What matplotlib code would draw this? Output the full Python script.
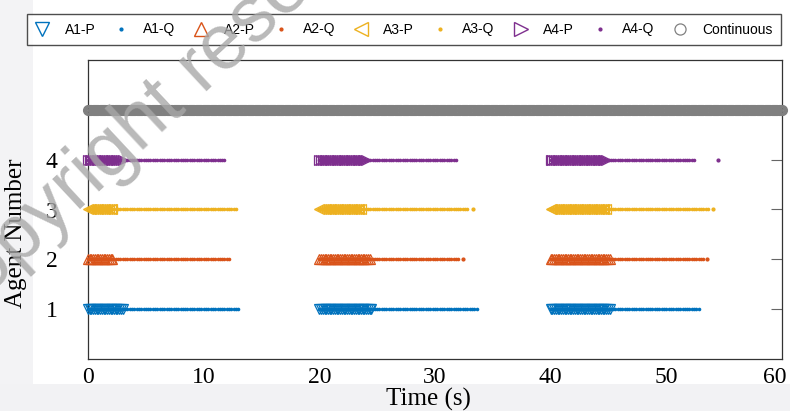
import numpy as np
import matplotlib
matplotlib.use("Agg")
import matplotlib.pyplot as plt
import matplotlib.transforms as mtransforms
from matplotlib.lines import Line2D
from matplotlib.patches import Rectangle

# ---- data ----
agents = [1, 2, 3, 4]
labels_P = ["A1-P", "A2-P", "A3-P", "A4-P"]
labels_Q = ["A1-Q", "A2-Q", "A3-Q", "A4-Q"]
episode_starts = [0.0, 20.0, 40.0]
# end time of the dense P (triggering) events in each episode
P_ends = {1: [3.0, 24.5, 45.1],
          2: [2.1, 24.4, 45.2],
          3: [2.1, 23.6, 44.8],
          4: [3.0, 24.1, 44.9]}
# end time of the Q (dot) events in each episode
Q_ends = {1: [13.0, 33.6, 52.8],
          2: [12.2, 32.0, 53.3],
          3: [12.9, 32.9, 53.7],
          4: [11.8, 31.9, 52.4]}
# isolated Q events
Q_extra = {1: [], 2: [32.4, 53.5], 3: [33.3, 54.0], 4: [54.5]}
P_step = 0.15     # sampling interval of P events (s)
Q_step = 0.2      # sampling interval of Q events (s)
cont_range = [0.0, 60.0]
cont_step = 0.1
cont_level = 5

colors = {1: "#0072BD", 2: "#D95319", 3: "#EDB120", 4: "#7E2F8E"}
p_markers = {1: "v", 2: "^", 3: "<", 4: ">"}
gray = "#808080"

W, H = 790, 411
fig = plt.figure(figsize=(W / 100, H / 100), dpi=100)
fig.patch.set_facecolor("white")
# light page background bands
fig.patches.append(Rectangle((0, 0), 33 / W, 1, transform=fig.transFigure,
                             facecolor="#f3f3f5", edgecolor="none", zorder=-10))
fig.patches.append(Rectangle((0, 0), 1, (H - 384) / H, transform=fig.transFigure,
                             facecolor="#f2f2f4", edgecolor="none", zorder=-10))

ax = fig.add_axes([88 / W, 1 - 359 / H, (782 - 88) / W, (359 - 60) / H])

for a in agents:
    c = colors[a]
    for s, pe, qe in zip(episode_starts, P_ends[a], Q_ends[a]):
        tq = np.arange(s, qe + 1e-9, Q_step)
        ax.plot(tq, np.full_like(tq, a), ".", color=c, markersize=3.2, zorder=3,
                clip_on=False)
        tp = np.arange(s, pe + 1e-9, P_step)
        ax.plot(tp, np.full_like(tp, a), p_markers[a], color=c, mfc="none",
                markersize=6.5, markeredgewidth=0.9, zorder=4, clip_on=False)
    if Q_extra[a]:
        ax.plot(Q_extra[a], [a] * len(Q_extra[a]), ".", color=c, markersize=4, zorder=3)

tc = np.arange(cont_range[0], cont_range[1] + 1e-9, cont_step)
ax.plot(tc, np.full_like(tc, cont_level), "o", color=gray, mfc="none",
        markersize=6.6, markeredgewidth=1.4, zorder=3, clip_on=False)

ax.set_xlim(0, 60)
ax.set_ylim(0, 6)
serif = ["Liberation Serif", "DejaVu Serif"]
ax.set_xticks(np.arange(0, 61, 10))
ax.set_xticklabels([str(v) for v in range(0, 61, 10)], fontfamily=serif, fontsize=17)
ax.set_xticks([20, 40], minor=True)
ax.tick_params(axis="x", which="major", length=0, pad=6)
ax.tick_params(axis="x", which="minor", length=5, direction="in", top=True,
               bottom=True, color="#444444")
ax.set_yticks(agents)
ax.set_yticklabels([str(v) for v in agents], fontfamily=serif, fontsize=17)
ax.tick_params(axis="y", which="major", left=False, right=True, direction="in",
               length=8, pad=22, color="#666666")
for sp in ax.spines.values():
    sp.set_color("#333333")
    sp.set_linewidth(0.9)

# nudge the last x tick label so it stays inside the figure
last = ax.get_xticklabels()[-1]
last.set_transform(last.get_transform() +
                   mtransforms.ScaledTranslation(-7 / 100, 0, fig.dpi_scale_trans))

ax.set_xlabel("Time (s)", fontfamily=serif, fontsize=18)
ax.xaxis.set_label_coords(0.49, (359 - 388) / 299)
ax.set_ylabel("Agent Number", fontfamily=serif, fontsize=18)
ax.yaxis.set_label_coords((27 - 88) / 694, (359 - 233) / 299)

# legend
handles = []
names = []
for a in agents:
    handles.append(Line2D([], [], linestyle="none", marker=p_markers[a], color=colors[a],
                          mfc="none", markersize=10, markeredgewidth=1.0))
    names.append(labels_P[a - 1])
    handles.append(Line2D([], [], linestyle="none", marker=".", color=colors[a],
                          markersize=4))
    names.append(labels_Q[a - 1])
handles.append(Line2D([], [], linestyle="none", marker="o", color=gray, mfc="none",
                      markersize=8, markeredgewidth=0.9))
names.append("Continuous")
leg = fig.legend(handles, names, loc="center", ncol=9, mode="expand",
                 bbox_to_anchor=(27 / W, 1 - 49 / H, (781 - 27) / W, 39 / H),
                 prop={"family": "Liberation Sans", "size": 10},
                 frameon=True, fancybox=False, edgecolor="#222222",
                 handlelength=1.0, handletextpad=1.1, columnspacing=0.4,
                 borderpad=0.6, borderaxespad=0)
leg.get_frame().set_linewidth(1.0)

# watermark
fig.text(170 / W, 1 - 97 / H, "Copyright reserved", rotation=43, fontsize=56,
         color="#a8a8a8", alpha=0.8, ha="center", va="center",
         rotation_mode="anchor",
         fontfamily=["Liberation Sans", "DejaVu Sans"], zorder=20)

fig.savefig("out.png", dpi=100)
